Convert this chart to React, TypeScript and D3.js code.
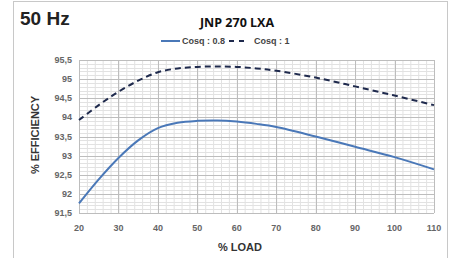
import { useEffect, useRef } from "react";
import * as d3 from "d3";

const loads = [20, 25, 30, 35, 40, 45, 50, 55, 60, 65, 70, 80, 90, 100, 110];
const cosq08 = [91.75, 92.38, 92.94, 93.4, 93.72, 93.86, 93.91, 93.92, 93.89, 93.83, 93.75, 93.5, 93.23, 92.96, 92.64];
const cosq1 = [93.93, 94.32, 94.67, 94.96, 95.18, 95.28, 95.32, 95.33, 95.32, 95.28, 95.22, 95.04, 94.81, 94.57, 94.32];
const xTicks = [20, 30, 40, 50, 60, 70, 80, 90, 100, 110];
const yTicks = [91.5, 92, 92.5, 93, 93.5, 94, 94.5, 95, 95.5];

export default function App() {
  const svgRef = useRef<SVGSVGElement>(null);

  useEffect(() => {
    if (!svgRef.current) return;
    const root = d3.select(svgRef.current);
    root.selectAll("*").remove();

    const left = 79, right = 434, top = 60, bottom = 213;
    const x = d3.scaleLinear().domain([20, 110]).range([left, right]);
    const y = d3.scaleLinear().domain([91.5, 95.5]).range([bottom, top]);
    const font = "Liberation Sans, Arial, sans-serif";

    // outer frame
    root.append("rect")
      .attr("x", 13.5).attr("y", 1.5).attr("width", 434).attr("height", 280)
      .attr("fill", "white").attr("stroke", "#c8c8c8");

    // minor grid
    const g = root.append("g");
    g.selectAll("line.vm")
      .data(d3.range(20, 111, 2))
      .enter().append("line")
      .attr("x1", (d) => x(d) + 0.5).attr("x2", (d) => x(d) + 0.5)
      .attr("y1", top).attr("y2", bottom)
      .attr("stroke", "#e2e2e2");
    g.selectAll("line.hm")
      .data(d3.range(0, 41).map((i) => 91.5 + i * 0.1))
      .enter().append("line")
      .attr("y1", (d) => Math.round(y(d)) + 0.5).attr("y2", (d) => Math.round(y(d)) + 0.5)
      .attr("x1", left).attr("x2", right)
      .attr("stroke", "#e2e2e2");
    // major grid
    g.selectAll("line.vM")
      .data(xTicks)
      .enter().append("line")
      .attr("x1", (d) => Math.round(x(d)) + 0.5).attr("x2", (d) => Math.round(x(d)) + 0.5)
      .attr("y1", top).attr("y2", bottom)
      .attr("stroke", "#bdbdbd");
    g.selectAll("line.hM")
      .data(yTicks)
      .enter().append("line")
      .attr("y1", (d) => Math.round(y(d)) + 0.5).attr("y2", (d) => Math.round(y(d)) + 0.5)
      .attr("x1", left).attr("x2", right)
      .attr("stroke", "#bdbdbd");

    // tick labels
    root.append("g").selectAll("text")
      .data(yTicks)
      .enter().append("text")
      .attr("x", 72).attr("y", (d) => y(d) + 3)
      .attr("text-anchor", "end")
      .attr("font-family", font).attr("font-size", 9).attr("font-weight", "bold")
      .attr("fill", "#666")
      .text((d) => String(d).replace(".", ","));
    root.append("g").selectAll("text")
      .data(xTicks)
      .enter().append("text")
      .attr("x", (d) => x(d)).attr("y", 231)
      .attr("text-anchor", "middle")
      .attr("font-family", font).attr("font-size", 9).attr("font-weight", "bold")
      .attr("fill", "#666")
      .text((d) => d);

    // curves
    const line = d3.line<number>()
      .x((_, i) => x(loads[i]))
      .y((d) => y(d))
      .curve(d3.curveCatmullRom.alpha(0.5));
    root.append("path")
      .attr("d", line(cosq1))
      .attr("fill", "none").attr("stroke", "#1f2a4d")
      .attr("stroke-width", 2).attr("stroke-dasharray", "6,4");
    root.append("path")
      .attr("d", line(cosq08))
      .attr("fill", "none").attr("stroke", "#4a78b8")
      .attr("stroke-width", 2);

    // titles
    root.append("text")
      .attr("x", 20).attr("y", 25)
      .attr("font-family", font).attr("font-size", 19).attr("font-weight", "bold")
      .attr("fill", "#222").text("50 Hz");
    root.append("text")
      .attr("x", 237).attr("y", 27)
      .attr("text-anchor", "middle")
      .attr("font-family", "Open Sans, sans-serif").attr("font-size", 12.5).attr("font-weight", "bold")
      .attr("fill", "#111").text("JNP 270 LXA");

    // legend
    const lg = root.append("g");
    lg.append("line").attr("x1", 161).attr("x2", 180).attr("y1", 41).attr("y2", 41)
      .attr("stroke", "#4a78b8").attr("stroke-width", 2);
    lg.append("text").attr("x", 182).attr("y", 44)
      .attr("font-family", font).attr("font-size", 9).attr("font-weight", "bold")
      .attr("fill", "#444").text("Cosq : 0.8");
    lg.append("line").attr("x1", 229).attr("x2", 245).attr("y1", 41).attr("y2", 41)
      .attr("stroke", "#1f2a4d").attr("stroke-width", 2).attr("stroke-dasharray", "5,5");
    lg.append("text").attr("x", 254).attr("y", 44)
      .attr("font-family", font).attr("font-size", 9).attr("font-weight", "bold")
      .attr("fill", "#444").text("Cosq : 1");

    // axis titles
    root.append("text")
      .attr("transform", "translate(39,135) rotate(-90)")
      .attr("text-anchor", "middle")
      .attr("font-family", font).attr("font-size", 11).attr("font-weight", "bold")
      .attr("fill", "#333").text("% EFFICIENCY");
    root.append("text")
      .attr("x", 240).attr("y", 251)
      .attr("text-anchor", "middle")
      .attr("font-family", font).attr("font-size", 11).attr("font-weight", "bold")
      .attr("fill", "#333").text("% LOAD");
  }, []);

  return (
    <svg
      ref={svgRef}
      width={453}
      height={258}
      style={{ position: "absolute", left: 0, top: 0, display: "block", background: "white" }}
    />
  );
}
